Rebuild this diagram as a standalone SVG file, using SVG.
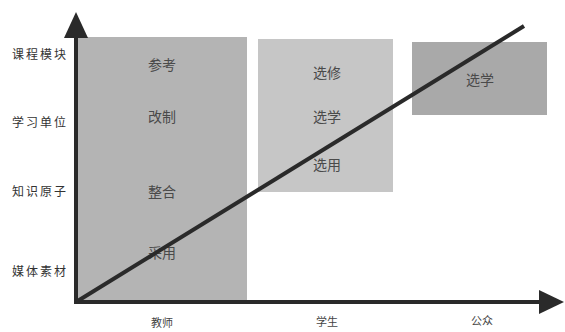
<svg xmlns="http://www.w3.org/2000/svg" width="565" height="332" viewBox="0 0 565 332">
<style>
.lbl{font-family:"Noto Sans CJK SC","Noto Sans",sans-serif;font-size:12px;letter-spacing:2px;fill:#333;}
.box{font-family:"Noto Sans CJK SC","Noto Sans",sans-serif;font-size:14px;fill:#4a4a4a;text-anchor:middle;}
.ax{font-family:"Noto Sans CJK SC","Noto Sans",sans-serif;font-size:11px;fill:#444;text-anchor:middle;}
</style>
<rect width="565" height="332" fill="#fff"/>
<g id="teacher">
<rect x="76" y="37" width="171" height="265" fill="#b4b4b4"/>
<text class="box" x="162" y="70">参考</text>
<text class="box" x="162" y="122">改制</text>
<text class="box" x="162" y="197">整合</text>
<text class="box" x="162" y="258">采用</text>
</g>
<g id="student">
<rect x="258" y="39" width="135" height="153" fill="#c6c6c6"/>
<text class="box" x="327" y="78">选修</text>
<text class="box" x="327" y="122">选学</text>
<text class="box" x="327" y="170">选用</text>
</g>
<g id="public">
<rect x="412" y="42" width="135" height="73" fill="#a9a9a9"/>
<text class="box" x="480" y="85">选学</text>
</g>
<g id="axis-labels">
<text class="lbl" x="12" y="59">课程模块</text>
<text class="lbl" x="12" y="127">学习单位</text>
<text class="lbl" x="12" y="196">知识原子</text>
<text class="lbl" x="12" y="276">媒体素材</text>
<text class="ax" x="162" y="327">教师</text>
<text class="ax" x="327" y="326">学生</text>
<text class="ax" x="482" y="325">公众</text>
</g>
<g id="connectors">
<line x1="76" y1="302" x2="76" y2="36" stroke="#2a2a2a" stroke-width="4"/>
<polygon points="76,12 64,38 88,38" fill="#2a2a2a"/>
<line x1="74" y1="302" x2="542" y2="302" stroke="#2a2a2a" stroke-width="4"/>
<polygon points="564,302 539,290 539,314" fill="#2a2a2a"/>
<line x1="76" y1="302" x2="524" y2="26" stroke="#2a2a2a" stroke-width="4"/>
</g>
</svg>
